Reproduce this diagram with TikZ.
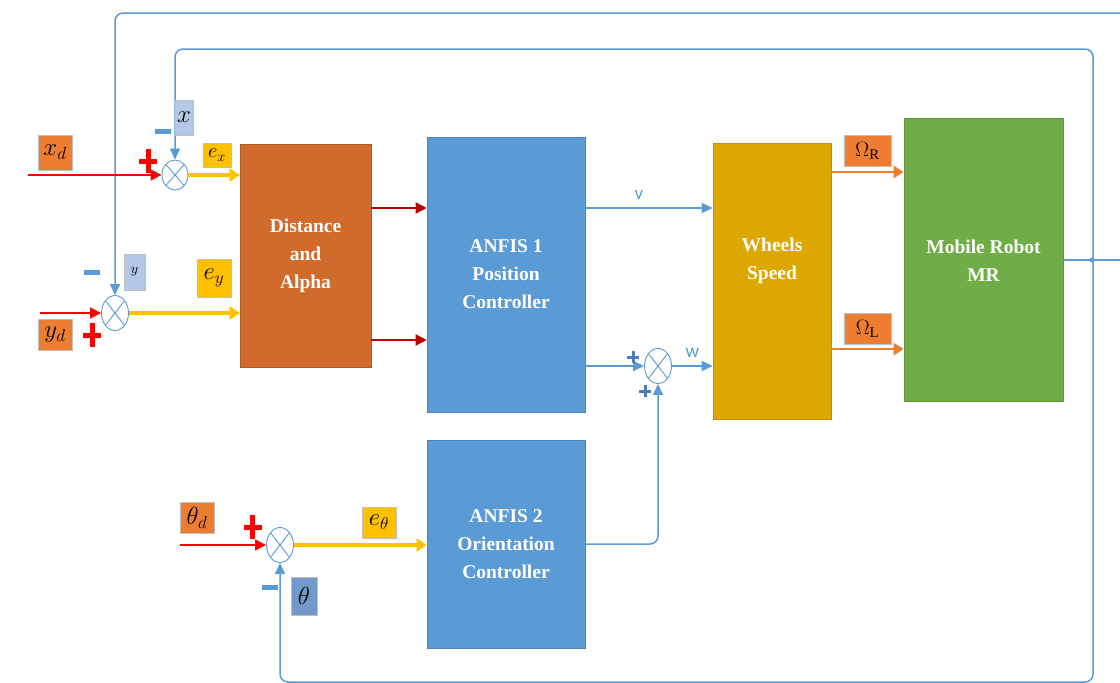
\documentclass[tikz,border=0pt]{standalone}
\usepackage{fontspec}
\setmainfont{Liberation Serif}
\newfontfamily\lblfont{Carlito}
\usetikzlibrary{arrows.meta,shapes.geometric}
\definecolor{cblue}{HTML}{5B9BD5}
\definecolor{cbrown}{HTML}{D06B2B}
\definecolor{corange}{HTML}{ED7D31}
\definecolor{cgold}{HTML}{DDA700}
\definecolor{cgreen}{HTML}{70AD47}
\definecolor{cyellow}{HTML}{FFC000}
\definecolor{lblue}{HTML}{B4C7E7}
\definecolor{mblue}{HTML}{7199C9}
\definecolor{dred}{HTML}{C00000}
\definecolor{pblue}{HTML}{4A7EBB}
\tikzset{
  block/.style={draw=#1!85!black, line width=0.6pt, fill=#1, text=white, align=center, inner sep=0pt,
    font=\bfseries\fontsize{19.5}{28}\selectfont},
  btext/.style={text=white, align=center, font=\bfseries\fontsize{19.5}{28}\selectfont},
  sumnode/.style={ellipse, draw=cblue, line width=0.9pt, fill=white, minimum width=27pt, minimum height=35pt, inner sep=0pt,
    path picture={\draw[cblue, line width=0.9pt] (path picture bounding box.north west) -- (path picture bounding box.south east)
      (path picture bounding box.north east) -- (path picture bounding box.south west);}},
  lbl/.style={draw=black!25, line width=1pt, fill=#1, inner sep=0pt, font=\fontsize{23}{24}\selectfont},
  fb/.style={draw=cblue, line width=1.5pt, rounded corners=8pt, -{Triangle[length=11pt,width=10pt]}},
  redarr/.style={draw=red, line width=1.6pt, -{Triangle[length=11pt,width=11pt]}},
  dredarr/.style={draw=dred, line width=1.6pt, -{Triangle[length=11pt,width=11pt]}},
  yelarr/.style={draw=cyellow, line width=3.5pt, -{Triangle[length=10pt,width=13pt]}},
  orarr/.style={draw=corange, line width=2pt, -{Triangle[length=10pt,width=12pt]}},
  bluearr/.style={draw=cblue, line width=1.5pt, -{Triangle[length=11pt,width=10pt]}},
  vw/.style={above=4pt, text=cblue, font=\lblfont\fontsize{19}{20}\selectfont},
  redplus/.pic={\draw[red, line width=5pt] (-9,0)--(9,0) (0,-12)--(0,12);},
  bminus/.pic={\fill[cblue] (-8,-2.5) rectangle (8,2.5);},
  bplus/.pic={\draw[pblue, line width=3pt] (-6,0)--(6,0) (0,-6)--(0,6);}
}
\begin{document}
\begin{tikzpicture}[x=1pt,y=-1pt]
\useasboundingbox (0,0) rectangle (1120,683);

% blocks
\node[block=cbrown, minimum width=131pt, minimum height=223pt] (da) at (305.5,255.5) {Distance\\and\\Alpha};
\node[block=cblue, minimum width=158pt, minimum height=275pt] (an1) at (506,274.5) {ANFIS 1\\Position\\Controller};
\node[block=cblue, minimum width=158pt, minimum height=208pt] (an2) at (506,544) {ANFIS 2\\Orientation\\Controller};
\node[block=cgold, minimum width=118pt, minimum height=276pt] (wh) at (772,281) {};
\node[btext] (whtxt) at (772,261) {Wheels\\Speed};
\node[block=cgreen, minimum width=159pt, minimum height=283pt] (mr) at (983.5,260) {};
\node[btext] (mrtxt) at (983.5,261) {Mobile Robot\\MR};

% sums
\node[sumnode, minimum height=30pt, minimum width=26pt] (sx) at (175,175) {};
\node[sumnode] (sy) at (115,313) {};
\node[sumnode] (sth) at (280,545) {};
\node[sumnode] (sw) at (658,366) {};

% helper coordinates
\coordinate (xin) at (28,175);
\coordinate (yin) at (40,313);
\coordinate (thin) at (180,545);
\coordinate (edgeTop) at (1120,13);
\coordinate (edgeMid) at (1120,260);
\coordinate (jn) at (1087,260);
\coordinate (hA) at (0,208);
\coordinate (hB) at (0,340);
\coordinate (hR) at (0,172);
\coordinate (hL) at (0,349);
\coordinate (hW) at (0,366);
\coordinate (hX) at (0,175);
\coordinate (hY) at (0,313);
\coordinate (hT) at (0,545);
\coordinate (hBot) at (0,682);

% feedback loops
\draw[fb] (edgeTop) -- (115,13) -- (sy.north);
\draw[draw=cblue, line width=1.5pt] (mr.east) -- (edgeMid);
\draw[fb] (jn) .. controls (1091,260) and (1093,257) .. (1093,250) -- (1093,49) -- (175,49) -- (sx.north);
\draw[fb] (jn) .. controls (1091,260) and (1093,263) .. (1093,270) -- (1093,682) -- (sth.south |- hBot) -- (sth.south);

% inputs
\draw[redarr] (xin) -- (sx.west);
\draw[redarr] (yin) -- (sy.west);
\draw[redarr] (thin) -- (sth.west);

% errors
\draw[yelarr] (sx.east) -- (da.west |- hX);
\draw[yelarr] (sy.east) -- (da.west |- hY);
\draw[yelarr] (sth.east) -- (an2.west |- hT);

% distance to anfis
\draw[dredarr] (da.east |- hA) -- (an1.west |- hA);
\draw[dredarr] (da.east |- hB) -- (an1.west |- hB);

% v, w
\draw[bluearr] (an1.east |- hA) -- node[vw, pos=0.42] (vlab) {v} (wh.west |- hA);
\draw[bluearr] (an1.east |- hW) -- (sw.west);
\draw[bluearr] (sw.east) -- node[vw] (wlab) {w} (wh.west |- hW);
\draw[fb] (an2.east) -| (sw.south);

% omegas
\draw[orarr] (wh.east |- hR) -- (mr.west |- hR);
\draw[orarr] (wh.east |- hL) -- (mr.west |- hL);

% labels
\node[lbl=corange, minimum width=34pt, minimum height=35pt] (lxd) at (55,152.5) {$x_d$};
\node[lbl=lblue, minimum width=18pt, minimum height=35pt] (lx) at (184,117.5) {$x$};
\node[lbl=cyellow, minimum width=28pt, minimum height=24pt, font=\fontsize{20}{22}\selectfont] (lex) at (217,155) {$e_x$};
\node[lbl=lblue, minimum width=21pt, minimum height=36pt, font=\fontsize{14}{16}\selectfont] (ly) at (134.5,272) {$y$};
\node[lbl=cyellow, minimum width=34pt, minimum height=38pt] (ley) at (214,278) {$e_y$};
\node[lbl=corange, minimum width=34pt, minimum height=31pt] (lyd) at (55,334.5) {$y_d$};
\node[lbl=corange, minimum width=34pt, minimum height=31pt] (ltd) at (197,517.5) {$\theta_d$};
\node[lbl=cyellow, minimum width=34pt, minimum height=31pt] (let) at (379,522.5) {$e_\theta$};
\node[lbl=mblue, minimum width=26pt, minimum height=38pt] (lt) at (304,596) {$\theta$};
\node[lbl=corange, minimum width=47pt, minimum height=31pt, font=\fontsize{21}{22}\selectfont] (lor) at (867.5,150.5) {$\Omega_{\mathrm{R}}$};
\node[lbl=corange, minimum width=47pt, minimum height=31pt, font=\fontsize{21}{22}\selectfont] (lol) at (867.5,328.5) {$\Omega_{\mathrm{L}}$};

% signs
\pic at (148,161) {redplus};
\pic at (92,335) {redplus};
\pic at (252.5,527) {redplus};
\pic at (163,131) {bminus};
\pic at (92,272) {bminus};
\pic at (269.5,587) {bminus};
\pic at (633,357) {bplus};
\pic at (645,391) {bplus};
\end{tikzpicture}
\end{document}
